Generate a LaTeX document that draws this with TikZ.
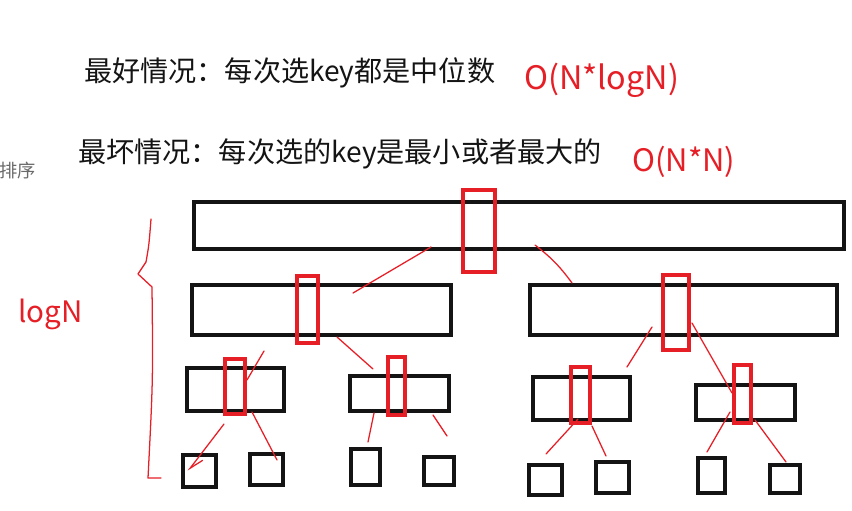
\documentclass[tikz,border=0pt]{standalone}
\usepackage{fontspec}
\setmainfont{Noto Sans CJK SC}
\usetikzlibrary{arrows.meta,calc}
\definecolor{sortred}{RGB}{230,30,38}
\definecolor{sortdark}{RGB}{20,20,20}
\definecolor{sortgray}{RGB}{105,105,105}
\tikzset{
  sort box/.style 2 args={
    draw=sortdark,
    line width=1mm,
    inner sep=0pt,
    outer sep=0pt,
    minimum width=#1cm,
    minimum height=#2cm,
  },
  pivot box/.style 2 args={
    draw=sortred,
    line width=0.9mm,
    inner sep=0pt,
    outer sep=0pt,
    minimum width=#1cm,
    minimum height=#2cm,
  },
  split line/.style={
    draw=sortred,
    line width=0.9pt,
    line cap=round,
  },
  head text/.style={
    anchor=west,
    inner sep=0pt,
    text=sortdark,
    font=\fontsize{20}{23}\selectfont,
  },
  cost text/.style={
    anchor=west,
    inner sep=0pt,
    text=sortred,
    font=\fontsize{23}{26}\selectfont,
  },
}

\begin{document}
\begin{tikzpicture}[x=0.025cm,y=-0.025cm]
  \useasboundingbox (0,0) rectangle (852,511);

  % headings
  \node[head text] (best) at (84,73) {最好情况：每次选key都是中位数};
  \node[cost text] (bestcost) at (524,80) {O(N*logN)};
  \node[head text] (worst) at (78,154) {最坏情况：每次选的key是最小或者最大的};
  \node[cost text, font=\fontsize{22}{25}\selectfont] (worstcost) at (632,162) {O(N*N)};
  \node[head text, text=sortgray, font=\fontsize{13}{15}\selectfont] (sortlabel) at (-1,171) {排序};
  \node[cost text, font=\fontsize{21}{24}\selectfont] (depth) at (18,314) {logN};

  % array parts
  \node[sort box={16.25}{1.175}] (top) at (519,225.5) {};
  \node[sort box={6.475}{1.25}] (left) at (321.5,310) {};
  \node[sort box={7.675}{1.25}] (right) at (683.5,310) {};
  \node[sort box={2.425}{1.075}] (ll) at (235.5,389.5) {};
  \node[sort box={2.475}{0.875}] (lr) at (399.5,393.5) {};
  \node[sort box={2.425}{1.075}] (rl) at (581.5,398.5) {};
  \node[sort box={2.475}{0.875}] (rr) at (745.5,402.5) {};
  \node[sort box={0.825}{0.8}] (leaf1) at (199.5,471) {};
  \node[sort box={0.825}{0.775}] (leaf2) at (266.5,469.5) {};
  \node[sort box={0.725}{0.9}] (leaf3) at (365.5,467) {};
  \node[sort box={0.75}{0.7}] (leaf4) at (439,471) {};
  \node[sort box={0.825}{0.75}] (leaf5) at (545.5,480) {};
  \node[sort box={0.825}{0.775}] (leaf6) at (612.5,477.5) {};
  \node[sort box={0.675}{0.875}] (leaf7) at (711.5,475.5) {};
  \node[sort box={0.75}{0.7}] (leaf8) at (785,479) {};

  % chosen keys
  \node[pivot box={0.8}{2.05}] (ptop) at (479,231) {};
  \node[pivot box={0.525}{1.675}] (pleft) at (307.5,309.5) {};
  \node[pivot box={0.65}{1.875}] (pright) at (676,312.5) {};
  \node[pivot box={0.5}{1.375}] (pll) at (235,386.5) {};
  \node[pivot box={0.425}{1.45}] (plr) at (396.5,386) {};
  \node[pivot box={0.475}{1.4}] (prl) at (580.5,395) {};
  \node[pivot box={0.425}{1.45}] (prr) at (742.5,394) {};

  % splits
  \draw[split line] ($(top.south)+(-88,-2)$) -- ($(left.north)+(31.5,8)$);
  \draw[split line] ($(top.south)+(16,-4)$) to[bend left=8] ($(right.north)+(-111.5,-2)$);
  \draw[split line] ($(left.south)+(15.5,2)$) -- ($(lr.north)+(-26.5,-7)$);
  \draw[split line] ($(left.south)+(-57.5,16)$) -- ($(ll.north)+(11.5,12)$);
  \draw[split line] ($(right.south)+(-31.5,-8)$) -- ($(rl.north)+(45.5,-10)$);
  \draw[split line] ($(right.south)+(8.5,-12)$) -- ($(rr.north)+(-13.5,8)$);
  \draw[split line, -{Straight Barb[left,length=3.5mm,width=2.6mm]}]
    ($(ll.south)+(-11.5,13)$) -- ($(leaf1.north)+(-11.5,16)$);
  \draw[split line] ($(ll.south)+(16.5,1)$) -- ($(leaf2.north)+(10.5,6)$);
  \draw[split line] ($(lr.south)+(-25.5,2)$) -- ($(leaf3.north)+(2.5,-7)$);
  \draw[split line] ($(lr.south)+(33.5,4)$) -- ($(leaf4.north)+(8,-21)$);
  \draw[split line] ($(rl.south)+(-3.5,-1)$) -- ($(leaf5.north)+(0.5,-11)$);
  \draw[split line] ($(rl.south)+(10.5,6)$) -- ($(leaf6.north)+(-6.5,-6)$);
  \draw[split line] ($(rr.south)+(-15.5,-8)$) -- ($(leaf7.north)+(-4.5,-6)$);
  \draw[split line] ($(rr.south)+(9.5,0)$) -- ($(leaf8.north)+(1,-3)$);

  % depth brace
  \draw[split line, line join=round] (151,219) .. controls (149,245) .. (146,262)
    -- (138,274) -- (152,287) .. controls (153,380) .. (148,478) -- (161,478);
\end{tikzpicture}
\end{document}
